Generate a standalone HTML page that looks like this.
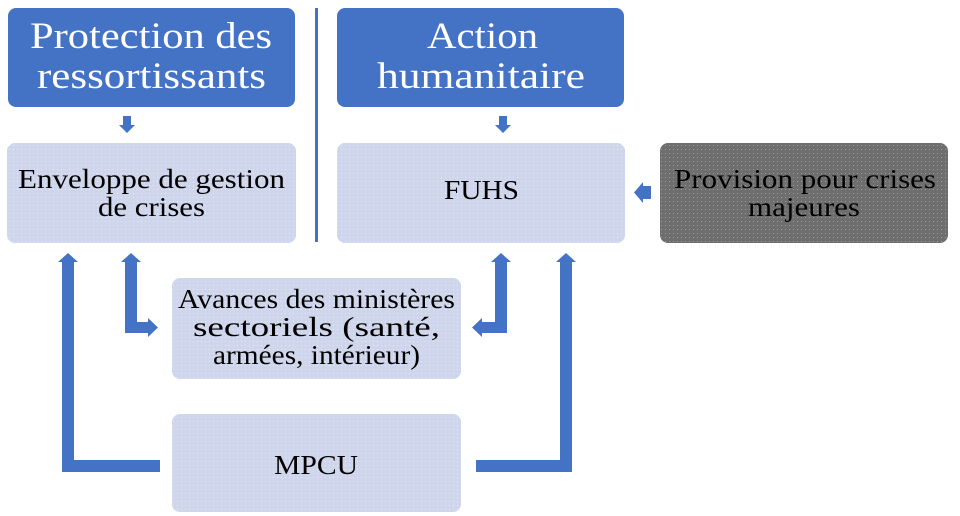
<!DOCTYPE html>
<html><head><meta charset="utf-8"><style>
html,body{margin:0;padding:0;background:#fff;}
svg{display:block;}
text{font-family:"Liberation Serif",serif;}
</style></head><body>
<svg width="960" height="516" viewBox="0 0 960 516" xmlns="http://www.w3.org/2000/svg">
<defs>
<pattern id="dots" width="4" height="4" patternUnits="userSpaceOnUse">
<rect width="4" height="4" fill="#cfd5ea"/><rect x="1" y="1" width="1" height="1" fill="#e6e9f4"/>
</pattern>
<pattern id="dotsg" width="4" height="4" patternUnits="userSpaceOnUse">
<rect width="4" height="4" fill="#6e6e6e"/><rect x="1" y="1" width="1" height="1" fill="#9a9a9a"/>
</pattern>
</defs>
<rect x="8" y="8" width="287" height="99" rx="8" fill="#4472c4"/>
<rect x="337" y="8" width="287" height="99" rx="8" fill="#4472c4"/>
<text x="30" y="48" fill="#fff" font-size="37" textLength="242" lengthAdjust="spacingAndGlyphs">Protection des</text>
<text x="37" y="88" fill="#fff" font-size="37" textLength="229" lengthAdjust="spacingAndGlyphs">ressortissants</text>
<text x="427" y="48" fill="#fff" font-size="37" textLength="111" lengthAdjust="spacingAndGlyphs">Action</text>
<text x="377" y="88" fill="#fff" font-size="37" textLength="208" lengthAdjust="spacingAndGlyphs">humanitaire</text>
<rect x="315" y="8" width="3" height="234" fill="#4472c4"/>
<path d="M123 116h8v9h4l-8 8-8-8h4z" fill="#4472c4"/>
<path d="M499 116h8v9h4l-8 8-8-8h4z" fill="#4472c4"/>
<rect x="7" y="143" width="289" height="100" rx="8" fill="url(#dots)"/>
<rect x="337" y="143" width="288" height="100" rx="8" fill="url(#dots)"/>
<rect x="660" y="143" width="288" height="100" rx="8" fill="url(#dotsg)"/>
<text x="18" y="188" font-size="27" textLength="267" lengthAdjust="spacingAndGlyphs">Enveloppe de gestion</text>
<text x="98" y="216" font-size="27" textLength="107" lengthAdjust="spacingAndGlyphs">de crises</text>
<text x="444" y="199" font-size="27" textLength="75" lengthAdjust="spacingAndGlyphs">FUHS</text>
<text x="674" y="188" font-size="27" textLength="262" lengthAdjust="spacingAndGlyphs">Provision pour crises</text>
<text x="748" y="216" font-size="27" textLength="112" lengthAdjust="spacingAndGlyphs">majeures</text>
<path d="M651 186v13h-8v4l-9-10.5 9-10.5v4z" fill="#4472c4"/>
<rect x="172" y="278" width="289" height="101" rx="8" fill="url(#dots)"/>
<rect x="172" y="414" width="289" height="98" rx="8" fill="url(#dots)"/>
<text x="178" y="308" font-size="27" textLength="277" lengthAdjust="spacingAndGlyphs">Avances des ministères</text>
<text x="193" y="336" font-size="27" textLength="247" lengthAdjust="spacingAndGlyphs">sectoriels (santé,</text>
<text x="213" y="364" font-size="27" textLength="207" lengthAdjust="spacingAndGlyphs">armées, intérieur)</text>
<text x="274" y="474" font-size="27" textLength="84" lengthAdjust="spacingAndGlyphs">MPCU</text>
<path d="M62 472V262h-4l10-9 10 9h-4v198h86v12z" fill="#4472c4"/>
<path d="M125 333V262h-4l10-9 10 9h-4v60h11v-4l10 9.5-10 9.5v-4z" fill="#4472c4"/>
<path d="M507 333V262h4l-10-9-10 9h4v60h-13v-4l-10 9.5 10 9.5v-4z" fill="#4472c4"/>
<path d="M572 472V262h4l-10-9-10 9h4v198h-84v12z" fill="#4472c4"/>
</svg>
</body></html>
